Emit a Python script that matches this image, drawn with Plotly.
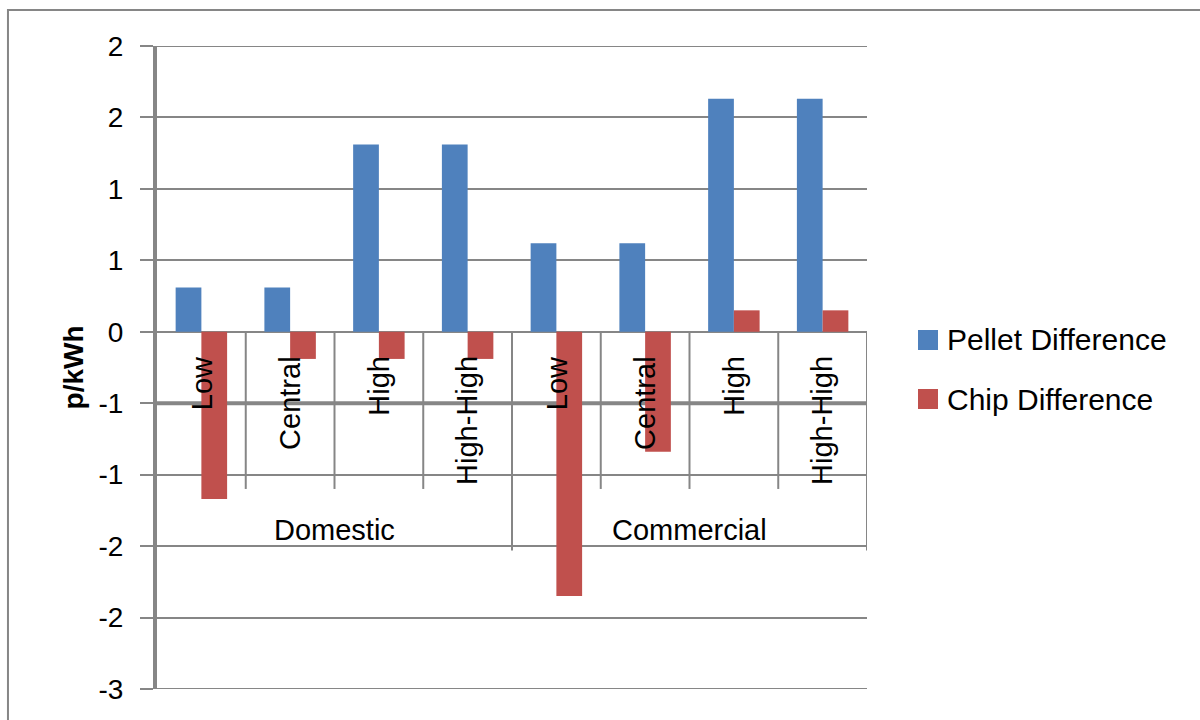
import plotly.graph_objects as go

# ---- data ----
groups = ["Domestic", "Commercial"]
subcategories = ["Low", "Central", "High", "High-High", "Low", "Central", "High", "High-High"]
group_of = ["Domestic"] * 4 + ["Commercial"] * 4
series_names = ["Pellet Difference", "Chip Difference"]
pellet = [0.31, 0.31, 1.31, 1.31, 0.62, 0.62, 1.63, 1.63]
chip = [-1.17, -0.19, -0.19, -0.19, -1.85, -0.84, 0.15, 0.15]
tick_vals = [-2.5, -2.0, -1.5, -1.0, -0.5, 0.0, 0.5, 1.0, 1.5, 2.0]
tick_text = ["-3", "-2", "-2", "-1", "-1", "0", "1", "1", "2", "2"]
y_title = "p/kWh"

colors = ["#4F81BD", "#C0504D"]
GRID = "#868686"
FONT = "Liberation Sans"

xs = list(range(len(subcategories)))

fig = go.Figure()
fig.add_trace(go.Bar(x=xs, y=pellet, name=series_names[0], marker_color=colors[0],
                     marker_line_width=0))
fig.add_trace(go.Bar(x=xs, y=chip, name=series_names[1], marker_color=colors[1],
                     marker_line_width=0))

shapes = []
annotations = []

# outer chart border
shapes.append(dict(type="rect", xref="paper", yref="paper", x0=-0.2099, x1=1.6,
                   y0=-0.2, y1=1.0560, line=dict(color=GRID, width=2),
                   fillcolor="rgba(0,0,0,0)", layer="below"))

# gridlines at range ends (top and bottom)
for v in (tick_vals[0], tick_vals[-1]):
    shapes.append(dict(type="line", xref="paper", yref="y", x0=0, x1=1, y0=v, y1=v,
                       line=dict(color=GRID, width=2), layer="below"))

# thick horizontal line at -0.5
shapes.append(dict(type="line", xref="paper", yref="y", x0=0, x1=1, y0=-0.5, y1=-0.5,
                   line=dict(color=GRID, width=4), layer="below"))

# category dividers
n = len(subcategories)
for i in range(n):
    b = i + 0.5
    is_group_edge = (i == n - 1) or (group_of[i] != group_of[i + 1])
    shapes.append(dict(type="line", xref="x", yref="y", x0=b, x1=b, y0=0,
                       y1=-1.53 if is_group_edge else -1.10,
                       line=dict(color=GRID, width=2), layer="below"))

# sub-category labels (rotated)
for i, lab in enumerate(subcategories):
    annotations.append(dict(x=i, y=0, xref="x", yref="y", text=lab, showarrow=False,
                            textangle=-90, xanchor="center", yanchor="top", yshift=-22,
                            font=dict(family=FONT, size=29, color="black")))

# group labels
for g in groups:
    idx = [i for i, gg in enumerate(group_of) if gg == g]
    cx = (idx[0] + idx[-1]) / 2
    annotations.append(dict(x=cx, y=-1.385, xref="x", yref="y", text=g, showarrow=False,
                            xanchor="center", yanchor="middle",
                            font=dict(family=FONT, size=29, color="black")))

# manual legend
leg_rows = [(0.5583, 0.5272, 0.5428), (0.4666, 0.4355, 0.4510)]
for k, name in enumerate(series_names):
    top, bot, mid = leg_rows[k]
    shapes.append(dict(type="rect", xref="paper", yref="paper", x0=1.0718, x1=1.1,
                       y0=bot, y1=top, fillcolor=colors[k], line=dict(width=0)))
    annotations.append(dict(x=1.1099, y=mid, xref="paper", yref="paper", text=name,
                            showarrow=False, xanchor="left", yanchor="middle",
                            font=dict(family=FONT, size=30, color="black")))

# y title
annotations.append(dict(x=-0.117, y=0.5, xref="paper", yref="paper",
                        text="<b>" + y_title + "</b>", showarrow=False, textangle=-90,
                        xanchor="center", yanchor="middle",
                        font=dict(family=FONT, size=28, color="black")))

fig.update_layout(
    width=1200, height=720,
    margin=dict(l=157, r=333, t=46, b=31),
    paper_bgcolor="white", plot_bgcolor="white",
    barmode="group", bargap=0.42, bargroupgap=0,
    showlegend=False,
    font=dict(family=FONT, size=28, color="black"),
    shapes=shapes, annotations=annotations,
    xaxis=dict(range=[-0.5, n - 0.5], showticklabels=False, showgrid=False,
               zeroline=False, showline=False, ticks=""),
    yaxis=dict(range=[-2.5, 2.0], tickmode="array", tickvals=tick_vals, ticktext=tick_text,
               showgrid=True, gridcolor=GRID, gridwidth=2, zeroline=False,
               showline=True, linecolor=GRID, linewidth=4,
               ticks="outside", ticklen=13, tickcolor=GRID, tickwidth=2,
               ticklabelstandoff=11,
               tickfont=dict(family=FONT, size=28, color="black")),
)

fig.write_html("out.html")
